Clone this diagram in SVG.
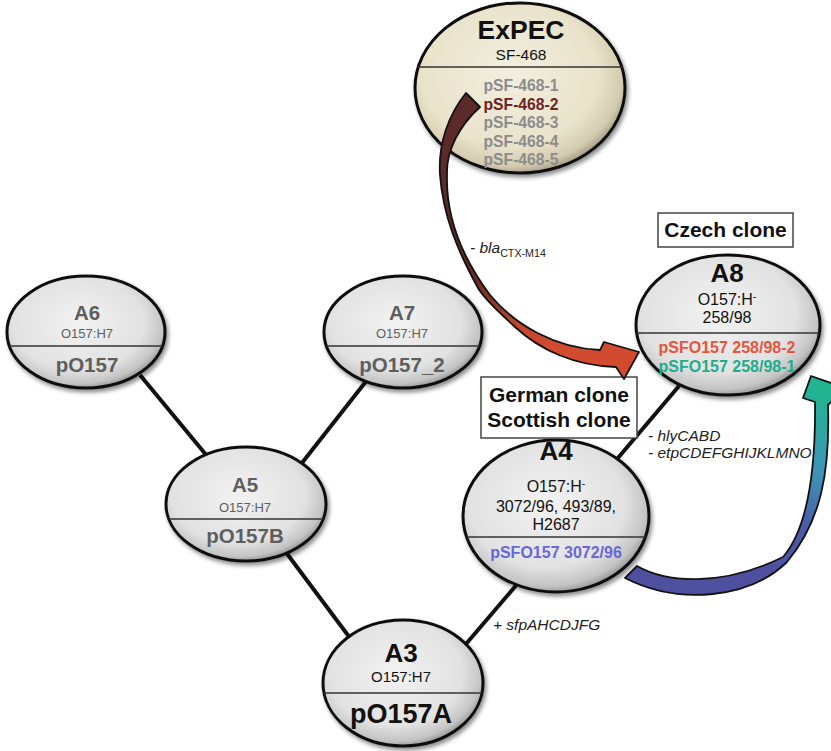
<svg xmlns="http://www.w3.org/2000/svg" width="831" height="751" viewBox="0 0 831 751">
<defs>
<radialGradient id="gGray" cx="0.45" cy="0.42" r="0.6">
<stop offset="0" stop-color="#f2f2f2"/>
<stop offset="0.7" stop-color="#e2e2e2"/>
<stop offset="0.9" stop-color="#c4c4c4"/>
<stop offset="1" stop-color="#8e8e8e"/>
</radialGradient>
<radialGradient id="gBeige" cx="0.45" cy="0.42" r="0.6">
<stop offset="0" stop-color="#f3efdf"/>
<stop offset="0.7" stop-color="#e9e3cb"/>
<stop offset="0.9" stop-color="#d3cbae"/>
<stop offset="1" stop-color="#9c957c"/>
</radialGradient>
<linearGradient id="gRed" gradientUnits="userSpaceOnUse" x1="455" y1="240" x2="560" y2="345">
<stop offset="0" stop-color="#5c2b29"/>
<stop offset="0.3" stop-color="#6a2c26"/>
<stop offset="0.7" stop-color="#c2462e"/>
<stop offset="1" stop-color="#d34b2f"/>
</linearGradient>
<linearGradient id="gBlue" gradientUnits="userSpaceOnUse" x1="760" y1="575" x2="815" y2="390">
<stop offset="0" stop-color="#4e4f9f"/>
<stop offset="0.3" stop-color="#4b5aa8"/>
<stop offset="0.6" stop-color="#3d95b6"/>
<stop offset="1" stop-color="#22b391"/>
</linearGradient>
<filter id="shadow" x="-10%" y="-10%" width="125%" height="130%">
<feDropShadow dx="2" dy="3" stdDeviation="2" flood-color="#000" flood-opacity="0.45"/>
</filter>
<style>
.node{stroke:#111;stroke-width:3;filter:url(#shadow)}
.gray{fill:url(#gGray)}
.beige{fill:url(#gBeige)}
.div{stroke:#333;stroke-width:1.3}
text{font-family:"Liberation Sans",Arial,sans-serif;text-anchor:middle}
.b{font-weight:bold}
.g{fill:#5e5e5e}
.k{fill:#111}
.lg{fill:#8c8c8c}
.edge{stroke:#111;stroke-width:4;fill:none}
.lbl{font-style:italic;fill:#222;text-anchor:start;font-size:15.5px}
.box{fill:#fff;stroke:#444;stroke-width:1.5}
.arrow{stroke:#111;stroke-width:1.8;stroke-linejoin:round}
</style>
</defs>
<rect width="831" height="751" fill="#fff"/>

<g id="connectors">
<line class="edge" x1="140" y1="375" x2="212" y2="462"/>
<line class="edge" x1="371" y1="375" x2="298" y2="468"/>
<line class="edge" x1="282" y1="547" x2="350" y2="638"/>
<line class="edge" x1="460" y1="651" x2="519" y2="582"/>
<line class="edge" x1="612" y1="465" x2="679" y2="386"/>
</g>

<g id="edge-labels">
<text class="lbl" x="493" y="630">+ sfpAHCDJFG</text>
<text class="lbl" x="648" y="441">- hlyCABD</text>
<text class="lbl" x="648" y="458">- etpCDEFGHIJKLMNO</text>
<text class="lbl" x="470" y="253">- bla<tspan dy="4" font-size="10.7" font-style="normal">CTX-M14</tspan></text>
</g>

<g id="node-ExPEC">
<ellipse class="node beige" cx="520" cy="88" rx="105" ry="85"/>
<line class="div" x1="418" y1="67" x2="622" y2="67"/>
<text class="b k" x="521" y="39" font-size="26.5">ExPEC</text>
<text class="k" x="521" y="60" font-size="15.5">SF-468</text>
<text class="b lg" x="521" y="91" font-size="15.7">pSF-468-1</text>
<text class="b" x="521" y="110" font-size="15.7" fill="#6e2222">pSF-468-2</text>
<text class="b lg" x="521" y="128" font-size="15.7">pSF-468-3</text>
<text class="b lg" x="521" y="147" font-size="15.7">pSF-468-4</text>
<text class="b lg" x="521" y="165" font-size="15.7">pSF-468-5</text>
</g>

<g id="node-A6">
<ellipse class="node gray" cx="86" cy="332" rx="79" ry="56"/>
<line class="div" x1="9.5" y1="346" x2="162.5" y2="346"/>
<text class="b g" x="87" y="320" font-size="20.5">A6</text>
<text class="g" x="87" y="338" font-size="13">O157:H7</text>
<text class="b g" x="87" y="372" font-size="20.5">pO157</text>
</g>

<g id="node-A7">
<ellipse class="node gray" cx="403" cy="332" rx="79" ry="56"/>
<line class="div" x1="326.5" y1="346" x2="479.5" y2="346"/>
<text class="b g" x="402" y="320" font-size="20.5">A7</text>
<text class="g" x="402" y="338" font-size="13">O157:H7</text>
<text class="b g" x="402" y="372" font-size="20.5">pO157_2</text>
</g>

<g id="node-A5">
<ellipse class="node gray" cx="246" cy="504" rx="80" ry="57"/>
<line class="div" x1="169" y1="519" x2="323" y2="519"/>
<text class="b g" x="245" y="492" font-size="20.5">A5</text>
<text class="g" x="245" y="512" font-size="13">O157:H7</text>
<text class="b g" x="245" y="543" font-size="20.5">pO157B</text>
</g>

<g id="node-A3">
<ellipse class="node gray" cx="403" cy="683" rx="80" ry="63"/>
<line class="div" x1="324" y1="693" x2="482" y2="693"/>
<text class="b k" x="401" y="662" font-size="26">A3</text>
<text class="k" x="401" y="682" font-size="15">O157:H7</text>
<text class="b k" x="401" y="723" font-size="27">pO157A</text>
</g>

<g id="node-A4">
<ellipse class="node gray" cx="556" cy="516" rx="93" ry="76"/>
<line class="div" x1="466.6" y1="537" x2="645.4" y2="537"/>
<text class="b k" x="556" y="460" font-size="26">A4</text>
<text class="k" x="556" y="492" font-size="16">O157:H<tspan dy="-5" font-size="10.5">-</tspan></text>
<text class="k" x="556" y="512" font-size="16">3072/96, 493/89,</text>
<text class="k" x="556" y="530" font-size="16">H2687</text>
<text class="b" x="556" y="558" font-size="16" fill="#6767d6">pSFO157 3072/96</text>
</g>

<g id="node-A8">
<ellipse class="node gray" cx="728" cy="325" rx="92" ry="70"/>
<line class="div" x1="636.6" y1="333" x2="819.4" y2="333"/>
<text class="b k" x="727" y="282" font-size="26">A8</text>
<text class="k" x="727" y="305" font-size="16">O157:H<tspan dy="-5" font-size="10.5">-</tspan></text>
<text class="k" x="727" y="323" font-size="16">258/98</text>
<text class="b" x="727" y="353" font-size="16" fill="#e8553a">pSFO157 258/98-2</text>
<text class="b" x="727" y="372" font-size="16" fill="#1fac8b">pSFO157 258/98-1</text>
</g>

<g id="label-czech">
<rect class="box" x="658" y="213" width="135" height="34"/>
<text class="b k" x="725.5" y="237" font-size="21">Czech clone</text>
</g>

<g id="label-german-scottish">
<rect class="box" x="481" y="377" width="156" height="61"/>
<text class="b k" x="559" y="402" font-size="21">German clone</text>
<text class="b k" x="559" y="427" font-size="21">Scottish clone</text>
</g>

<g id="transfer-arrows">
<path class="arrow" fill="url(#gRed)" d="M 466,93 L 480,107 C 460,125 446,150 447,175 C 446,212 458,252 490,295 C 515,325 555,348 600,350 L 604,342 L 639,352 L 624,379 L 616,367 C 575,366 540,350 515,327 C 500,313 485,300 478,288 C 457,250 443,215 440,175 C 438,145 448,115 466,93 Z"/>
<path class="arrow" fill="url(#gBlue)" d="M 625,578 L 637,566 C 665,582 720,588 783,557 C 802,535 816,490 815,402 L 803,398 L 811,376 L 845,388 L 828,405 C 830,470 822,520 787,562 C 750,598 680,606 625,578 Z"/>
</g>
</svg>
